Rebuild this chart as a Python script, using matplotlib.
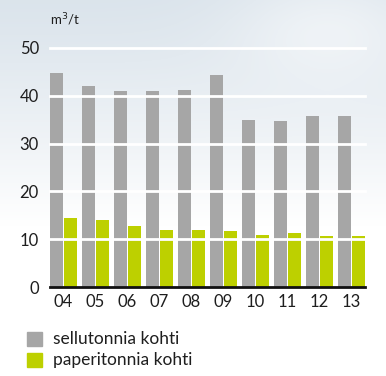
import numpy as np
import matplotlib
matplotlib.use("Agg")
import matplotlib.pyplot as plt
from matplotlib.patches import Rectangle

years = ["04", "05", "06", "07", "08", "09", "10", "11", "12", "13"]
pulp = [44.8, 42.0, 41.1, 41.1, 41.3, 44.3, 34.9, 34.7, 35.8, 35.8]
paper = [14.4, 14.0, 12.7, 11.9, 11.9, 11.7, 10.8, 11.2, 10.6, 10.6]
series_labels = ["sellutonnia kohti", "paperitonnia kohti"]
unit_label = "m$^3$/t"
yticks = [0, 10, 20, 30, 40, 50]

GRAY = "#a6a6a6"
GREEN = "#bdd000"
FONT = "Lato"
TXT = "#1e1e1e"

W, H = 386, 376
fig = plt.figure(figsize=(W / 100, H / 100), dpi=100)

# soft background gradient: pale blue-grey at the top fading to white
bg = fig.add_axes([0, 0, 1, 1], zorder=-10)
yy = np.linspace(0, 1, 300)[:, None]
xx = np.linspace(0, 1, 300)[None, :]
t = np.clip(yy / 0.6, 0, 1) ** 1.2
top = np.array([0.86, 0.895, 0.925])
img = top[None, None, :] * (1 - t[..., None]) + np.ones(3)[None, None, :] * t[..., None]
img = img * np.ones((1, 300, 1))
# lighter patch toward the upper right
light = np.exp(-(((xx - 0.85) / 0.25) ** 2 + ((yy - 0.08) / 0.15) ** 2))
img = img + (1 - img) * 0.5 * light[..., None]
bg.imshow(img, aspect="auto", extent=[0, 1, 0, 1], origin="upper")
bg.axis("off")

x0, x1 = 50, 365
y0, y1 = 287, 48
ax = fig.add_axes([x0 / W, 1 - y0 / H, (x1 - x0) / W, (y0 - y1) / H])
ax.set_facecolor("none")

idx = np.arange(len(years))
bw = 0.405
gap = 0.015
ax.bar(idx - gap - bw, pulp, width=bw, align="edge", color=GRAY, zorder=2)
ax.bar(idx + gap, paper, width=bw, align="edge", color=GREEN, zorder=2)

ax.set_xlim(-0.42, len(years) - 1 + 0.42)
ax.set_ylim(0, 50)

for v in yticks[1:]:
    ax.axhline(v, color="white", lw=2, zorder=3, clip_on=False)
ax.axhline(0, color="#111111", lw=2, zorder=4, clip_on=False)

for s in ax.spines.values():
    s.set_visible(False)
ax.set_yticks(yticks)
ax.set_yticklabels([str(v) for v in yticks], fontsize=12, family=FONT, color=TXT)
ax.set_xticks(idx)
ax.set_xticklabels(years, fontsize=12, family=FONT, color=TXT)
ax.tick_params(axis="both", length=0)
ax.tick_params(axis="y", pad=8)
ax.tick_params(axis="x", pad=5)

fig.text(50 / W, 1 - 20 / H, unit_label, fontsize=9.5, family=FONT,
         color=TXT, ha="left", va="center")

# legend
for i, (lab, col) in enumerate(zip(series_labels, [GRAY, GREEN])):
    yc = 339 + i * 21
    fig.patches.append(Rectangle((27 / W, 1 - (yc + 7) / H), 15 / W, 14 / H,
                                 transform=fig.transFigure, color=col))
    fig.text(53 / W, 1 - yc / H, lab, fontsize=12.5, family=FONT,
             color=TXT, ha="left", va="center")

fig.savefig("out.png", dpi=100)
